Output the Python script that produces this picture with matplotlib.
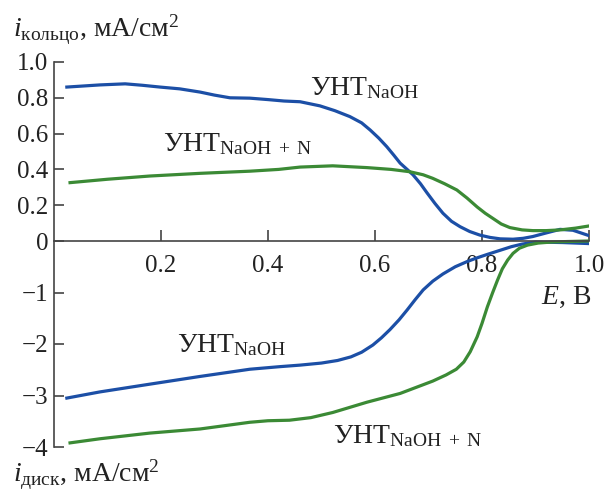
import numpy as np
import matplotlib
matplotlib.use("Agg")
import matplotlib.pyplot as plt

plt.rcParams['font.family'] = 'serif'
plt.rcParams['font.serif'] = ['Liberation Serif', 'DejaVu Serif']
plt.rcParams['mathtext.fontset'] = 'custom'
plt.rcParams['mathtext.rm'] = 'Liberation Serif'
plt.rcParams['mathtext.it'] = 'Liberation Serif:italic'

BLUE = '#1c4fa6'
GREEN = '#3b8a35'

# ring current, CNT_NaOH
ring_naoh_x = [0.024, 0.05, 0.086, 0.133, 0.165, 0.198, 0.235, 0.273, 0.30, 0.329, 0.366,
               0.40, 0.43, 0.46, 0.497, 0.525, 0.553, 0.575, 0.591, 0.607, 0.622, 0.635,
               0.647, 0.66, 0.671, 0.685, 0.697, 0.712, 0.727, 0.743, 0.759, 0.777,
               0.796, 0.815, 0.834, 0.858, 0.877, 0.895, 0.92, 0.946, 0.970, 1.0]
ring_naoh_y = [0.86, 0.865, 0.872, 0.878, 0.87, 0.86, 0.85, 0.832, 0.815, 0.80, 0.798,
               0.79, 0.782, 0.778, 0.755, 0.728, 0.695, 0.66, 0.62, 0.575, 0.527, 0.48,
               0.435, 0.40, 0.37, 0.32, 0.27, 0.21, 0.155, 0.11, 0.08, 0.053,
               0.033, 0.02, 0.012, 0.01, 0.015, 0.025, 0.045, 0.065, 0.06, 0.03]

# ring current, CNT_NaOH+N
ring_n_x = [0.030, 0.10, 0.179, 0.273, 0.366, 0.42, 0.46, 0.521, 0.585, 0.63, 0.665,
            0.69, 0.708, 0.73, 0.753, 0.772, 0.791, 0.806, 0.821, 0.836, 0.852, 0.875,
            0.895, 0.92, 0.946, 0.975, 1.0]
ring_n_y = [0.326, 0.345, 0.363, 0.378, 0.39, 0.40, 0.413, 0.42, 0.41, 0.40, 0.387,
            0.37, 0.35, 0.32, 0.285, 0.24, 0.19, 0.155, 0.125, 0.095, 0.075, 0.062,
            0.058, 0.058, 0.062, 0.072, 0.084]

# disk current, CNT_NaOH
disk_naoh_x = [0.024, 0.086, 0.179, 0.273, 0.366, 0.422, 0.46, 0.50, 0.53, 0.555, 0.575,
               0.596, 0.612, 0.628, 0.645, 0.66, 0.675, 0.69, 0.708, 0.727, 0.75, 0.772,
               0.79, 0.81, 0.834, 0.855, 0.875, 0.90, 0.95, 1.0]
disk_naoh_y = [-3.05, -2.93, -2.78, -2.63, -2.49, -2.44, -2.41, -2.37, -2.32, -2.25, -2.16,
               -2.02, -1.88, -1.72, -1.53, -1.34, -1.14, -0.95, -0.78, -0.64, -0.50, -0.40,
               -0.33, -0.26, -0.18, -0.11, -0.06, -0.02, -0.03, -0.05]

# disk current, CNT_NaOH+N
disk_n_x = [0.030, 0.086, 0.179, 0.273, 0.366, 0.40, 0.44, 0.48, 0.521, 0.585, 0.647, 0.708,
            0.733, 0.752, 0.766, 0.778, 0.791, 0.80, 0.81, 0.82, 0.829, 0.838, 0.848,
            0.858, 0.87, 0.885, 0.905, 0.93, 0.96, 1.0]
disk_n_y = [-3.92, -3.84, -3.73, -3.65, -3.52, -3.49, -3.48, -3.43, -3.33, -3.13, -2.96, -2.72,
            -2.60, -2.49, -2.35, -2.15, -1.86, -1.60, -1.28, -1.00, -0.76, -0.54, -0.37,
            -0.24, -0.14, -0.08, -0.04, -0.02, -0.01, 0.0]

x_ticks = [0.2, 0.4, 0.6, 0.8, 1.0]
y_ticks = [-4, -3, -2, -1, 0, 0.2, 0.4, 0.6, 0.8, 1.0]
y_labels = ['\u22124', '\u22123', '\u22122', '\u22121', '0', '0.2', '0.4', '0.6', '0.8', '1.0']

k = 179 / 51.5


def fwd(y):
    y = np.asarray(y, dtype=float)
    return np.where(y > 0, y * k, y)


def inv(y):
    y = np.asarray(y, dtype=float)
    return np.where(y > 0, y / k, y)


fig = plt.figure(figsize=(6.09, 4.93), dpi=100)
ax = fig.add_axes([54 / 609, 1 - 447 / 493, 535 / 609, 385 / 493])
ax.set_yscale('function', functions=(fwd, inv))

ax.plot(ring_naoh_x, ring_naoh_y, color=BLUE, lw=2.3)
ax.plot(ring_n_x, ring_n_y, color=GREEN, lw=2.3)
ax.plot(disk_naoh_x, disk_naoh_y, color=BLUE, lw=2.3)
ax.plot(disk_n_x, disk_n_y, color=GREEN, lw=2.3)

ax.set_xlim(0, 1.0)
ax.set_ylim(-4, 1.0)
ax.set_xticks(x_ticks)
ax.set_xticklabels(['%.1f' % v for v in x_ticks])
ax.set_yticks(y_ticks)
ax.set_yticklabels(y_labels)
ax.minorticks_off()

for s in ['top', 'right']:
    ax.spines[s].set_visible(False)
ax.spines['bottom'].set_position(('data', 0))
for s in ['bottom', 'left']:
    ax.spines[s].set_color('#444444')
    ax.spines[s].set_linewidth(1.2)

ax.tick_params(axis='x', direction='in', length=8, width=1.2, color='#444444',
               labelsize=18, pad=10, labelcolor='#222222')
ax.tick_params(axis='y', direction='in', length=7, width=1.2, color='#444444',
               labelsize=18, pad=4, labelcolor='#222222')

fs = 20
ax.text(0.479, 0.816, r'УНТ$_{\mathrm{NaOH}}$', fontsize=fs, color='#222222')
ax.text(0.204, 0.50, r'УНТ$_{\mathrm{NaOH\ +\ N}}$', fontsize=fs, color='#222222')
ax.text(0.23, -2.15, r'УНТ$_{\mathrm{NaOH}}$', fontsize=fs, color='#222222')
ax.text(0.521, -3.93, r'УНТ$_{\mathrm{NaOH\ +\ N}}$', fontsize=fs, color='#222222')

fig.text(13 / 609, 1 - 37 / 493, r'$i_{\mathrm{кольцо}}$, мА/см$^2$', fontsize=fs,
         color='#222222')
fig.text(13 / 609, 1 - 482 / 493, r'$i_{\mathrm{диск}}$, мА/см$^2$', fontsize=fs,
         color='#222222')
fig.text(591 / 609, 1 - 297 / 493, r'$E$, В', fontsize=fs, color='#222222',
         ha='right', va='center')

fig.savefig('out.png', dpi=100)
